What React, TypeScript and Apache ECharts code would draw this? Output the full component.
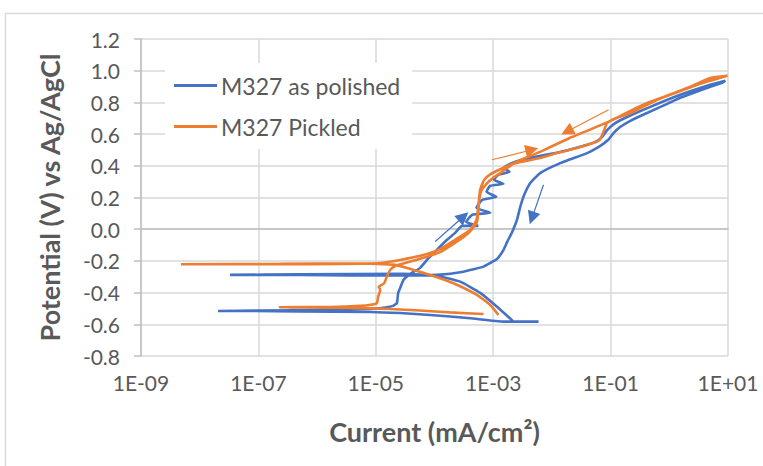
import React, { useEffect, useRef } from "react";
import * as echarts from "echarts";

// Cyclic polarisation scans: [current density (mA/cm²), potential (V vs Ag/AgCl)]
const asPolishedScan: [number, number][] = [
  [5.93e-3, -0.583], [1.5e-3, -0.583], [4.06e-4, -0.562], [8.45e-5, -0.541], [2.6e-5, -0.529],
  [8.0e-6, -0.522], [5.1e-7, -0.519], [7.2e-8, -0.516], [2.05e-8, -0.516],
  [1.07e-7, -0.513], [1.67e-6, -0.51], [8.0e-6, -0.503], [1.45e-5, -0.494], [1.97e-5, -0.484],
  [2.29e-5, -0.465], [2.4e-5, -0.404], [2.6e-5, -0.371], [2.96e-5, -0.32], [3.85e-5, -0.282],
  [5.7e-5, -0.244], [7.9e-5, -0.183], [1.1e-4, -0.13], [1.63e-4, -0.067], [2.25e-4, -0.023],
  [2.96e-4, 0.021], [5.56e-4, 0.021], [3.47e-4, 0.046], [4.4e-4, 0.091], [8.9e-4, 0.103],
  [5.2e-4, 0.135], [6.5e-4, 0.185], [1.13e-3, 0.204], [7.7e-4, 0.236], [8.9e-4, 0.274],
  [1.49e-3, 0.286], [1.03e-3, 0.312], [1.22e-3, 0.343], [1.9e-3, 0.362], [1.49e-3, 0.387],
  [1.8e-3, 0.406], [2.38e-3, 0.425], [4.2e-3, 0.45], [1.22e-2, 0.482], [3.05e-2, 0.52],
  [5.5e-2, 0.551], [7.2e-2, 0.583], [8.8e-2, 0.627], [0.115, 0.665], [0.179, 0.703],
  [0.475, 0.772], [1.54, 0.848], [5.0, 0.911], [9.0, 0.937],
  // reverse sweep
  [8.0, 0.924], [5.0, 0.899], [1.54, 0.829], [0.92, 0.791], [0.418, 0.733], [0.217, 0.684],
  [0.147, 0.646], [0.112, 0.606], [0.0914, 0.564], [0.0668, 0.526], [0.0396, 0.48],
  [0.0139, 0.417], [6.3e-3, 0.354], [4.28e-3, 0.291], [3.38e-3, 0.217], [2.89e-3, 0.141],
  [2.54e-3, 0.059], [2.11e-3, -0.017], [1.73e-3, -0.08], [1.5e-3, -0.13], [1.17e-3, -0.187],
  [6.84e-4, -0.236], [3.12e-4, -0.268], [1.1e-4, -0.288], [2.96e-5, -0.292], [3.66e-6, -0.292],
  [5.1e-7, -0.288], [3.29e-8, -0.288], [5.1e-7, -0.285], [2.96e-5, -0.282], [1.1e-4, -0.295],
  [2.74e-4, -0.331], [6.0e-4, -0.402], [1.16e-3, -0.489], [2.22e-3, -0.583],
];

const pickledScan: [number, number][] = [
  [6.85e-4, -0.535], [1.85e-4, -0.525], [5.7e-5, -0.513], [1.76e-5, -0.503], [3.66e-6, -0.497],
  [5.1e-7, -0.494], [2.28e-7, -0.492], [1.67e-6, -0.491], [5.4e-6, -0.484], [8.7e-6, -0.475],
  [1.04e-5, -0.467], [1.1e-5, -0.425], [1.19e-5, -0.383], [1.12e-5, -0.364], [1.39e-5, -0.341],
  [1.54e-5, -0.299], [1.76e-5, -0.257], [2.14e-5, -0.232], [3.16e-5, -0.213], [5.7e-5, -0.187],
  [1.27e-4, -0.143], [2.1e-4, -0.093], [3.33e-4, -0.042], [4.4e-4, 0.002], [5.3e-4, 0.046],
  [5.6e-4, 0.122], [5.78e-4, 0.185], [6.25e-4, 0.242], [7.9e-4, 0.291], [1.0e-3, 0.324],
  [1.32e-3, 0.354], [2.22e-3, 0.413], [6.3e-3, 0.449], [1.22e-2, 0.48], [3.05e-2, 0.518],
  [5.9e-2, 0.553], [6.68e-2, 0.57], [7.6e-2, 0.616], [8.7e-2, 0.67], [0.112, 0.694],
  [0.217, 0.733], [0.626, 0.817], [2.29, 0.899], [5.0, 0.954], [9.8, 0.968],
  // reverse sweep
  [8.0, 0.959], [3.38, 0.918], [1.04, 0.848], [0.475, 0.804], [0.217, 0.747], [0.108, 0.69],
  [0.0456, 0.63], [0.0197, 0.574], [6.3e-3, 0.488], [2.89e-3, 0.435], [1.32e-3, 0.378],
  [8.9e-4, 0.346], [7.0e-4, 0.311], [6.0e-4, 0.248], [5.6e-4, 0.153], [5.2e-4, 0.059],
  [4.06e-4, -0.004], [2.24e-4, -0.067], [1.27e-4, -0.124], [5.7e-5, -0.168], [2.6e-5, -0.194],
  [1.2e-5, -0.213], [2.47e-6, -0.219], [2.34e-7, -0.221], [4.8e-9, -0.221], [2.34e-7, -0.219],
  [5.4e-6, -0.216], [2.14e-5, -0.225], [4.4e-5, -0.257], [9.5e-5, -0.295], [2.1e-4, -0.341],
  [5.3e-4, -0.415], [8.9e-4, -0.478], [1.23e-3, -0.541],
];

// Sweep-direction arrows: [start, tip]
const polishedArrows: [number, number][][] = [
  [[1.03e-4, -0.078], [3.12e-4, 0.08]],
  [[7.2e-3, 0.28], [4.57e-3, 0.07]],
];
const pickledArrows: [number, number][][] = [
  [[9.5e-4, 0.438], [4.57e-3, 0.501]],
  [[0.0925, 0.754], [0.0181, 0.616]],
];

const seriesNames = ["M327 as polished", "M327 Pickled"];
const seriesColors = ["#4472C4", "#ED7D31"];

const currentMin = 1e-9;
const currentMax = 10;
const potentialMin = -0.8;
const potentialMax = 1.2;
const potentialStep = 0.2;

const textColor = "#595959";
const gridColor = "#D9D9D9";
const fontFamily = "Lato, 'Open Sans', sans-serif";

function formatCurrent(v: number): string {
  const e = Math.round(Math.log10(v));
  const sign = e < 0 ? "-" : "+";
  return `1E${sign}${String(Math.abs(e)).padStart(2, "0")}`;
}

function arrowLines(arrows: [number, number][][]) {
  return arrows.map(([a, b]) => [{ coord: a }, { coord: b }]);
}

export default function App() {
  const ref = useRef<HTMLDivElement>(null);

  useEffect(() => {
    if (!ref.current) return;
    const chart = echarts.init(ref.current, undefined, { renderer: "svg" });
    const scans = [asPolishedScan, pickledScan];
    const arrows = [polishedArrows, pickledArrows];

    chart.setOption({
      animation: false,
      backgroundColor: "#ffffff",
      textStyle: { fontFamily },
      graphic: [
        {
          type: "rect",
          shape: { x: 5.5, y: 13.5, width: 800, height: 500 },
          style: { fill: "none", stroke: gridColor, lineWidth: 1.5 },
          silent: true,
        },
      ],
      grid: { left: 141, right: 35, top: 39, bottom: 110, containLabel: false },
      legend: {
        orient: "vertical",
        left: 165,
        top: 63,
        width: 248,
        padding: [11, 12, 11, 9],
        backgroundColor: "#ffffff",
        icon: "rect",
        itemWidth: 43,
        itemHeight: 3,
        itemGap: 18,
        textStyle: { fontFamily, fontSize: 23, color: textColor, padding: [0, 0, 0, -1] },
        data: seriesNames,
      },
      xAxis: {
        type: "log",
        logBase: 10,
        min: currentMin,
        max: currentMax,
        interval: 2,
        name: "Current (mA/cm²)",
        nameLocation: "middle",
        nameGap: 62,
        nameTextStyle: { fontFamily, fontSize: 27, fontWeight: "bold", color: textColor },
        axisLine: { show: true, lineStyle: { color: "#BFBFBF", width: 1.5 } },
        axisTick: { show: false },
        axisLabel: { formatter: formatCurrent, fontSize: 21, color: textColor, margin: 16 },
        splitLine: { show: true, lineStyle: { color: gridColor, width: 1.5 } },
        minorSplitLine: { show: false },
      },
      yAxis: {
        type: "value",
        min: potentialMin,
        max: potentialMax,
        interval: potentialStep,
        name: "Potential (V) vs Ag/AgCl",
        nameLocation: "middle",
        nameGap: 78,
        nameTextStyle: { fontFamily, fontSize: 27, fontWeight: "bold", color: textColor },
        axisLine: { show: true, lineStyle: { color: "#BFBFBF", width: 1.5 } },
        axisTick: { show: true, inside: false, length: 7, lineStyle: { color: "#BFBFBF", width: 1.5 } },
        axisLabel: { formatter: (v: number) => v.toFixed(1), fontSize: 21, color: textColor, margin: 21 },
        splitLine: { show: true, lineStyle: { color: gridColor, width: 1.5 } },
      },
      series: seriesNames.map((name, i) => ({
        type: "line",
        name,
        data: scans[i],
        symbol: "none",
        showSymbol: false,
        smooth: 0.15,
        lineStyle: { color: seriesColors[i], width: 2.6 },
        itemStyle: { color: seriesColors[i] },
        markLine: {
          silent: true,
          symbol: ["none", "triangle"],
          symbolSize: 13,
          label: { show: false },
          lineStyle: { color: seriesColors[i], width: 1.2, type: "solid" },
          emphasis: { disabled: true },
          data: arrowLines(arrows[i]),
        },
      })),
    });

    return () => chart.dispose();
  }, []);

  return (
    <div
      ref={ref}
      style={{ position: "fixed", left: 0, top: 0, width: 763, height: 466 }}
    />
  );
}
